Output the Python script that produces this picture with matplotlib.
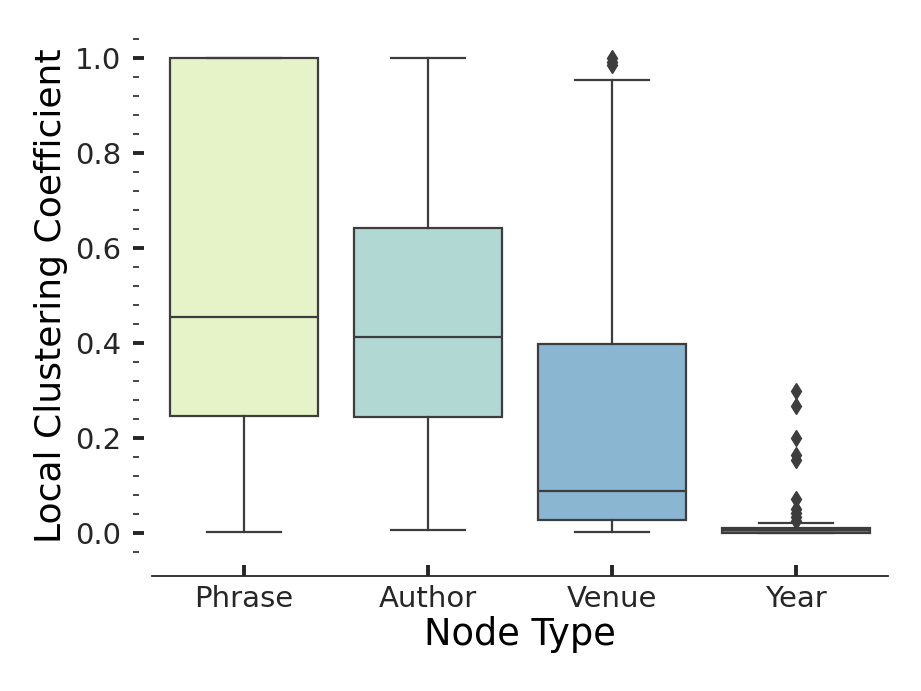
import matplotlib
matplotlib.use("Agg")
import matplotlib.pyplot as plt
from matplotlib.ticker import MultipleLocator

# values
node_types = ["Phrase", "Author", "Venue", "Year"]
box_colors = ["#e6f3c9", "#b2d8d3", "#8ab6d1", "#4f86bb"]
q1_vals = [0.247, 0.245, 0.028, 0.001]
med_vals = [0.454, 0.413, 0.089, 0.007]
q3_vals = [1.000, 0.641, 0.399, 0.012]
whislo_vals = [0.003, 0.007, 0.002, 0.000]
whishi_vals = [1.000, 1.000, 0.954, 0.021]
flier_vals = [
    [],
    [],
    [0.984, 0.992, 1.000],
    [0.026, 0.034, 0.043, 0.052, 0.073, 0.155, 0.165, 0.200, 0.267, 0.300],
]

line_col = "#3d3d3d"

fig = plt.figure(figsize=(9.21, 6.91), dpi=100)
ax = fig.add_axes([152 / 921, 134 / 691, 736 / 921, 523 / 691])

stats = []
for i, name in enumerate(node_types):
    stats.append(dict(label=name, q1=q1_vals[i], med=med_vals[i], q3=q3_vals[i],
                      whislo=whislo_vals[i], whishi=whishi_vals[i],
                      fliers=flier_vals[i]))

bp = ax.bxp(stats, positions=range(len(node_types)), widths=0.8,
            patch_artist=True, showfliers=True,
            boxprops=dict(edgecolor=line_col, linewidth=1.6),
            medianprops=dict(color=line_col, linewidth=1.6),
            whiskerprops=dict(color=line_col, linewidth=1.6),
            capprops=dict(color=line_col, linewidth=1.6),
            capwidths=0.4,
            flierprops=dict(marker="d", markerfacecolor=line_col,
                            markeredgecolor=line_col, markersize=8.5))
for patch, c in zip(bp["boxes"], box_colors):
    patch.set_facecolor(c)

ax.set_xlim(-0.5, 3.5)
ax.set_ylim(-0.05, 1.05)
ax.yaxis.set_major_locator(MultipleLocator(0.2))
ax.yaxis.set_minor_locator(MultipleLocator(0.04))
ax.set_yticks([0.0, 0.2, 0.4, 0.6, 0.8, 1.0])
ax.set_yticklabels(["0.0", "0.2", "0.4", "0.6", "0.8", "1.0"])
ax.set_xticks(range(len(node_types)))
ax.set_xticklabels(node_types)

for side in ["top", "right", "left"]:
    ax.spines[side].set_visible(False)
ax.spines["left"].set_position(("outward", 14))
ax.spines["bottom"].set_position(("outward", 14))
ax.spines["bottom"].set_linewidth(1.3)
ax.spines["bottom"].set_color("#262626")

ax.tick_params(axis="both", which="major", direction="in", length=8, width=2.8,
               color="#262626", labelsize=21, labelcolor="#262626", pad=8)
ax.tick_params(axis="y", which="minor", direction="in", length=4, width=1.2,
               color="#262626")
ax.tick_params(axis="x", pad=6)

ax.set_xlabel("Node Type", fontsize=26.5, color="black", labelpad=2)
ax.set_ylabel("Local Clustering Coefficient", fontsize=26, color="black", labelpad=5)

fig.savefig("out.png", dpi=100)
